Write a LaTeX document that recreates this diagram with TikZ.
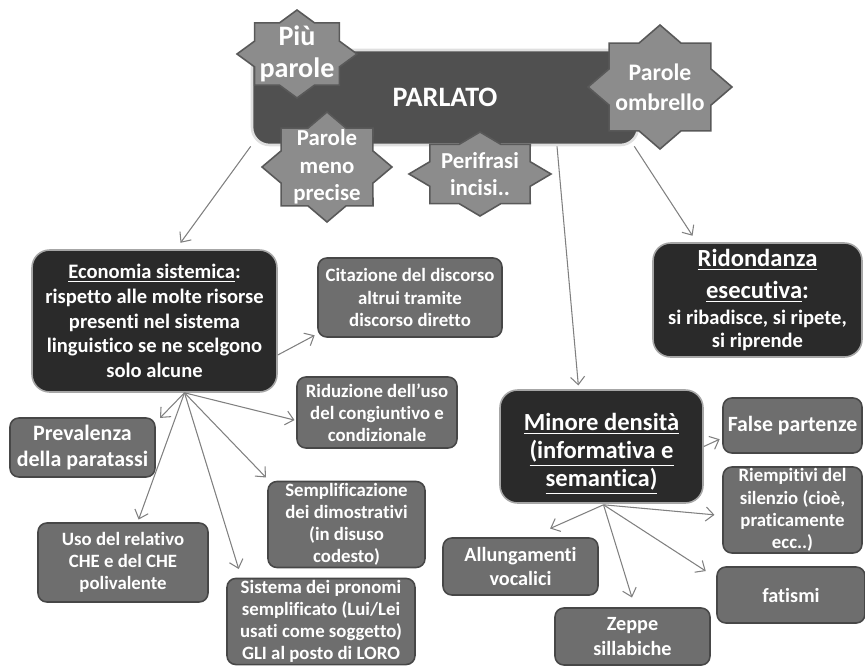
\documentclass[tikz,border=0pt]{standalone}
\usepackage{fontspec}
\setmainfont{Carlito}[Ligatures=NoCommon]
\usetikzlibrary{arrows.meta,calc}
\definecolor{scuro}{HTML}{2A2A2A}
\definecolor{centro}{HTML}{505050}
\definecolor{medio}{HTML}{6E6E6E}
\definecolor{bordo}{HTML}{474747}
\definecolor{stella}{HTML}{8C8C8C}
\definecolor{filo}{HTML}{808080}

\begin{document}
\begin{tikzpicture}[x=0.02cm,y=-0.02cm,text=white]
    \tikzstyle{b}=[draw=bordo,fill=medio,line width=0.9pt,rounded corners=5pt,align=center,inner sep=1pt,font=\bfseries\fontsize{10.7}{12.6}\selectfont]
    \tikzstyle{d}=[draw=gray!70,fill=scuro,line width=0.9pt,rounded corners=10pt,align=center,inner sep=1pt,font=\bfseries\fontsize{11.7}{14}\selectfont]
    \tikzstyle{st}=[draw=bordo!90,fill=stella,line width=0.9pt,line join=miter]
    \tikzstyle{stt}=[align=center,inner sep=0pt]
    \tikzstyle{freccia}=[draw=filo,line width=0.6pt,-{Straight Barb[length=4.5pt,width=8pt]},shorten >=1pt]
    \useasboundingbox (0,0) rectangle (865,666);

    \node[draw=gray!25,line width=1.5pt,fill=centro,rounded corners=10pt,minimum width=7.72cm,minimum height=1.9cm,font=\bfseries\fontsize{16}{18}\selectfont]
        (parlato) at (445,97.5) {PARLATO};

    % stelle
    \foreach \n/\cx/\cy/\rx/\ry/\fs/\bs/\t in {piu/297/54/60/44/16/18.5/{Più\\parole},
                                               meno/327/167/65/55/13/15.5/{Parole\\meno\\precise},
                                               perif/480/174/71/42/13/15.5/{Perifrasi\\incisi..},
                                               ombr/660/87/72/62/13.5/17/{Parole\\ombrello}} {
        \draw[st,shift={(\cx,\cy)}] plot[samples at={0,22.5,...,337.5}]
            ({\rx*(0.8825+0.1175*cos(8*\x))*cos(\x)},{\ry*(0.8825+0.1175*cos(8*\x))*sin(\x)}) -- cycle;
        \node[stt,font=\bfseries\fontsize{\fs}{\bs}\selectfont] (\n) at (\cx,\cy) {\t};
    }

    \node[d,minimum width=4.9cm,minimum height=2.84cm] (eco) at (154.5,321)
        {\underline{Economia sistemica}:\\rispetto alle molte risorse\\presenti nel sistema\\linguistico se ne scelgono\\solo alcune};
    \node[d,minimum width=4.18cm,minimum height=2.28cm,font=\bfseries\fontsize{11.7}{13}\selectfont] (rid) at (757.5,300)
        {{\fontsize{14}{17}\selectfont\underline{Ridondanza}}\\[5pt]{\fontsize{14}{17}\selectfont\underline{esecutiva}:}\\[2pt]si ribadisce, si ripete,\\si riprende};
    \node[d,minimum width=4.06cm,minimum height=2.26cm,font=\bfseries\fontsize{14}{16}\selectfont] (min) at (601.5,446.5)
        {\rule{0pt}{18pt}\underline{Minore densità}\\\underline{(informativa e}\\\underline{semantica)}};

    \node[b,minimum width=3.68cm,minimum height=1.58cm] (cit) at (410,297.5) {Citazione del discorso\\altrui tramite\\discorso diretto};
    \node[b,minimum width=3.2cm,minimum height=1.42cm] (ridu) at (377,412.5) {Riduzione dell’uso\\del congiuntivo e\\condizionale};
    \node[b,minimum width=2.9cm,minimum height=1.18cm,font=\bfseries\fontsize{12.5}{15}\selectfont] (prev) at (82.5,447.5) {Prevalenza\\della paratassi};
    \node[b,minimum width=3.4cm,minimum height=1.58cm] (uso) at (123,562.5) {Uso del relativo\\CHE e del CHE\\polivalente};
    \node[b,minimum width=3.14cm,minimum height=1.7cm] (sempl) at (346.5,524.5) {Semplificazione\\dei dimostrativi\\(in disuso\\codesto)};
    \node[b,minimum width=3.76cm,minimum height=1.66cm] (sist) at (321,621.5) {Sistema dei pronomi\\semplificato (Lui/Lei\\usati come soggetto)\\GLI al posto di LORO};
    \node[b,minimum width=2.78cm,minimum height=1.1cm,font=\bfseries\fontsize{12.4}{14}\selectfont] (false) at (792.5,425.5) {False partenze};
    \node[b,minimum width=2.78cm,minimum height=1.68cm] (riemp) at (792.5,510) {Riempitivi del\\silenzio (cioè,\\praticamente\\ecc..)};
    \node[b,minimum width=2.96cm,minimum height=1.12cm,font=\bfseries\fontsize{11.5}{14}\selectfont] (fat) at (791,595) {fatismi};
    \node[b,minimum width=3.1cm,minimum height=1.14cm,font=\bfseries\fontsize{11.5}{14}\selectfont] (allung) at (520.5,566.5) {Allungamenti\\vocalici};
    \node[b,minimum width=3.1cm,minimum height=1.14cm,font=\bfseries\fontsize{11.5}{14}\selectfont] (zeppe) at (632.5,636.5) {Zeppe\\sillabiche};

    % frecce
    \draw[freccia] (parlato.south west) -- ($(eco.north)+(25,-5)$);
    \draw[freccia] ($(parlato.south)+(112,0)$) -- ($(min.north)+(-23,-2)$);
    \draw[freccia] ($(parlato.south east)+(-5,0)$) -- ($(rid.north)+(-64,-5)$);
    \draw[freccia] ($(eco.east)+(0,34)$) -- ($(cit.west)+(-1,37)$);
    \coordinate (ecofan) at ($(eco.south)+(30,0)$);
    \draw[freccia] (ecofan) -- ($(ridu.west)+(0,8)$);
    \draw[freccia] (ecofan) -- ($(prev.north east)+(3,2)$);
    \draw[freccia] (ecofan) -- ($(uso.north)+(15,-1)$);
    \draw[freccia] (ecofan) -- ($(sist.north west)+(13,-7)$);
    \draw[freccia] (ecofan) -- ($(sempl.north west)+(0,-2)$);
    \draw[freccia] (min.east) -- ($(false.west)+(-1,13)$);
    \coordinate (minfan) at ($(min.south)+(2,1)$);
    \draw[freccia] (minfan) -- ($(allung.north)+(28,-8)$);
    \draw[freccia] (minfan) -- ($(zeppe.north)+(0,-8)$);
    \draw[freccia] (minfan) -- ($(fat.west)+(-9,-23)$);
    \draw[freccia] (minfan) -- ($(riemp.west)+(-6,5)$);
\end{tikzpicture}
\end{document}
